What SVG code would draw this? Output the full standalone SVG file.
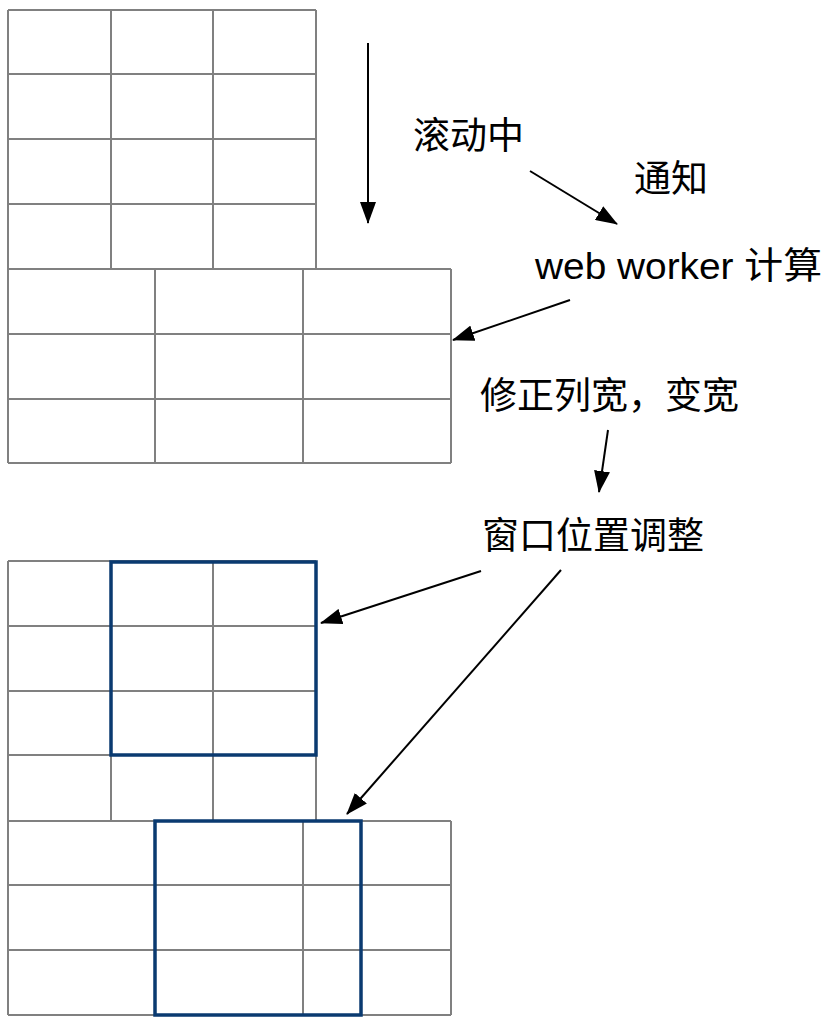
<svg xmlns="http://www.w3.org/2000/svg" width="838" height="1024" viewBox="0 0 838 1024">
<style>
.grid{fill:none;stroke:#808080;stroke-width:2}
.win{fill:none;stroke:#0a3a70;stroke-width:3.5}
.arr{fill:none;stroke:#000;stroke-width:2}
.lbl{font-family:"Liberation Sans","Noto Sans CJK SC",sans-serif;font-size:37px;fill:#000}
</style>
<defs>
<marker id="ah" viewBox="0 0 22 16" refX="21" refY="8" markerWidth="22" markerHeight="16" markerUnits="userSpaceOnUse" orient="auto">
<path d="M0,0 L22,8 L0,16 Z" fill="#000"/>
</marker>
</defs>
<rect width="838" height="1024" fill="#fff"/>
<g id="table-top">
<path class="grid" d="M8,10 H316 M8,74 H316 M8,139 H316 M8,204 H316 M8,10 V269 M111,10 V269 M213,10 V269 M316,10 V269"/>
<path class="grid" d="M8,269 H451 M8,334 H451 M8,399 H451 M8,463 H451 M8,269 V463 M155,269 V463 M303,269 V463 M451,269 V463"/>
</g>
<g id="table-bottom">
<path class="grid" d="M8,561 H316 M8,626 H316 M8,691 H316 M8,755 H316 M8,561 V821 M111,561 V821 M213,561 V821 M316,561 V821"/>
<path class="grid" d="M8,821 H451 M8,885 H451 M8,950 H451 M8,1015 H451 M8,821 V1015 M155,821 V1015 M303,821 V1015 M451,821 V1015"/>
</g>
<g id="window-1"><rect class="win" x="111" y="562" width="205" height="193"/></g>
<g id="window-2"><rect class="win" x="155" y="821" width="206" height="194"/></g>
<g id="label-scroll"><text class="lbl" x="413" y="149">滚动中</text></g>
<g id="label-notify"><text class="lbl" x="634" y="192">通知</text></g>
<g id="label-worker"><text class="lbl" x="535" y="279" textLength="287" lengthAdjust="spacingAndGlyphs">web worker 计算</text></g>
<g id="label-fix"><text class="lbl" x="480" y="409">修正列宽，变宽</text></g>
<g id="label-window"><text class="lbl" x="482" y="549">窗口位置调整</text></g>
<g id="connectors">
<line class="arr" x1="368" y1="43" x2="368" y2="223" marker-end="url(#ah)"/>
<line class="arr" x1="530" y1="171" x2="617" y2="224" marker-end="url(#ah)"/>
<line class="arr" x1="570" y1="300" x2="453" y2="340" marker-end="url(#ah)"/>
<line class="arr" x1="608" y1="430" x2="599" y2="492" marker-end="url(#ah)"/>
<line class="arr" x1="481" y1="571" x2="321" y2="623" marker-end="url(#ah)"/>
<line class="arr" x1="561" y1="570" x2="347" y2="814" marker-end="url(#ah)"/>
</g>
</svg>
